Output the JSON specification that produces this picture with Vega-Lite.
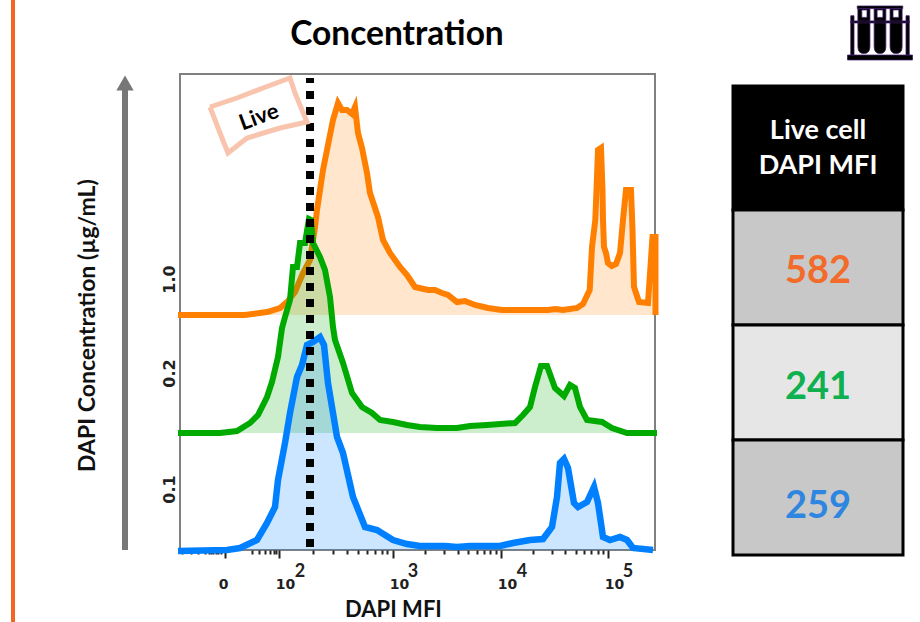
{
"$schema":"https://vega.github.io/schema/vega-lite/v6.json",
"width":475,"height":476,
"autosize":"none",
"padding":{"left":180,"top":74,"right":265,"bottom":72},
"background":"white",
"view":{"stroke":"#808080","strokeWidth":2},
"config":{"mark":{"invalid":"show"}},
"datasets":{
"curves":[
{"s":"1.0","x":-2,"y":235},{"s":"1.0","x":65,"y":235},{"s":"1.0","x":87,"y":238},{"s":"1.0","x":100,"y":242},{"s":"1.0","x":107,"y":248},{"s":"1.0","x":115,"y":258},{"s":"1.0","x":123,"y":277},{"s":"1.0","x":130,"y":290},{"s":"1.0","x":135,"y":323},{"s":"1.0","x":137,"y":340},{"s":"1.0","x":143,"y":380},{"s":"1.0","x":150,"y":415},{"s":"1.0","x":153,"y":430},{"s":"1.0","x":158,"y":447},{"s":"1.0","x":162,"y":440},{"s":"1.0","x":167,"y":440},{"s":"1.0","x":172,"y":436},{"s":"1.0","x":175,"y":443},{"s":"1.0","x":178,"y":417},{"s":"1.0","x":182,"y":402},{"s":"1.0","x":187,"y":377},{"s":"1.0","x":190,"y":357},{"s":"1.0","x":198,"y":333},{"s":"1.0","x":203,"y":310},{"s":"1.0","x":210,"y":297},{"s":"1.0","x":220,"y":283},{"s":"1.0","x":227,"y":275},{"s":"1.0","x":235,"y":263},{"s":"1.0","x":248,"y":260},{"s":"1.0","x":255,"y":260},{"s":"1.0","x":262,"y":257},{"s":"1.0","x":268,"y":255},{"s":"1.0","x":277,"y":248},{"s":"1.0","x":285,"y":249},{"s":"1.0","x":295,"y":245},{"s":"1.0","x":308,"y":242},{"s":"1.0","x":322,"y":240},{"s":"1.0","x":368,"y":240},{"s":"1.0","x":375,"y":241},{"s":"1.0","x":383,"y":240},{"s":"1.0","x":397,"y":242},{"s":"1.0","x":403,"y":246},{"s":"1.0","x":409.7,"y":260},{"s":"1.0","x":412,"y":303},{"s":"1.0","x":415.3,"y":330},{"s":"1.0","x":416.5,"y":360},{"s":"1.0","x":418,"y":400},{"s":"1.0","x":421,"y":402},{"s":"1.0","x":422.5,"y":360},{"s":"1.0","x":423,"y":330},{"s":"1.0","x":424,"y":303},{"s":"1.0","x":426,"y":297},{"s":"1.0","x":428,"y":287},{"s":"1.0","x":431.7,"y":284},{"s":"1.0","x":436,"y":286},{"s":"1.0","x":440,"y":297},{"s":"1.0","x":443,"y":330},{"s":"1.0","x":446,"y":360},{"s":"1.0","x":451,"y":360},{"s":"1.0","x":452.5,"y":320},{"s":"1.0","x":454,"y":263},{"s":"1.0","x":459,"y":248},{"s":"1.0","x":468,"y":247},{"s":"1.0","x":472.5,"y":313},{"s":"1.0","x":475.5,"y":313},{"s":"1.0","x":475.5,"y":235},
{"s":"0.2","x":-2,"y":117},{"s":"0.2","x":40,"y":117},{"s":"0.2","x":57,"y":119},{"s":"0.2","x":70,"y":127},{"s":"0.2","x":78,"y":135},{"s":"0.2","x":87,"y":153},{"s":"0.2","x":92,"y":168},{"s":"0.2","x":98,"y":193},{"s":"0.2","x":102,"y":222},{"s":"0.2","x":105,"y":233},{"s":"0.2","x":110,"y":250},{"s":"0.2","x":113,"y":283},{"s":"0.2","x":117,"y":283},{"s":"0.2","x":120,"y":307},{"s":"0.2","x":125,"y":307},{"s":"0.2","x":129,"y":331},{"s":"0.2","x":131,"y":330},{"s":"0.2","x":133,"y":307},{"s":"0.2","x":140,"y":293},{"s":"0.2","x":145,"y":280},{"s":"0.2","x":150,"y":253},{"s":"0.2","x":153,"y":223},{"s":"0.2","x":155,"y":210},{"s":"0.2","x":163,"y":187},{"s":"0.2","x":172,"y":157},{"s":"0.2","x":182,"y":143},{"s":"0.2","x":192,"y":137},{"s":"0.2","x":200,"y":130},{"s":"0.2","x":213,"y":128},{"s":"0.2","x":227,"y":125},{"s":"0.2","x":240,"y":123},{"s":"0.2","x":257,"y":122},{"s":"0.2","x":277,"y":122},{"s":"0.2","x":290,"y":124},{"s":"0.2","x":307,"y":125},{"s":"0.2","x":335,"y":127},{"s":"0.2","x":343,"y":135},{"s":"0.2","x":350,"y":143},{"s":"0.2","x":355,"y":163},{"s":"0.2","x":361,"y":184},{"s":"0.2","x":367,"y":184},{"s":"0.2","x":375,"y":162},{"s":"0.2","x":384,"y":154},{"s":"0.2","x":390,"y":165},{"s":"0.2","x":395,"y":162},{"s":"0.2","x":400,"y":143},{"s":"0.2","x":407,"y":130},{"s":"0.2","x":422,"y":128},{"s":"0.2","x":432,"y":122},{"s":"0.2","x":447,"y":117},{"s":"0.2","x":477,"y":117},
{"s":"0.1","x":-2,"y":-1},{"s":"0.1","x":47,"y":0},{"s":"0.1","x":60,"y":2},{"s":"0.1","x":77,"y":10},{"s":"0.1","x":87,"y":27},{"s":"0.1","x":95,"y":43},{"s":"0.1","x":98,"y":70},{"s":"0.1","x":105,"y":107},{"s":"0.1","x":110,"y":137},{"s":"0.1","x":117,"y":173},{"s":"0.1","x":122,"y":185},{"s":"0.1","x":127,"y":205},{"s":"0.1","x":133,"y":208},{"s":"0.1","x":140,"y":213},{"s":"0.1","x":144,"y":205},{"s":"0.1","x":148,"y":167},{"s":"0.1","x":157,"y":113},{"s":"0.1","x":163,"y":97},{"s":"0.1","x":173,"y":53},{"s":"0.1","x":185,"y":23},{"s":"0.1","x":197,"y":20},{"s":"0.1","x":213,"y":10},{"s":"0.1","x":227,"y":6},{"s":"0.1","x":240,"y":4},{"s":"0.1","x":265,"y":4},{"s":"0.1","x":277,"y":3},{"s":"0.1","x":290,"y":4},{"s":"0.1","x":320,"y":4},{"s":"0.1","x":333,"y":7},{"s":"0.1","x":350,"y":10},{"s":"0.1","x":363,"y":11},{"s":"0.1","x":372,"y":23},{"s":"0.1","x":377,"y":53},{"s":"0.1","x":380,"y":87},{"s":"0.1","x":384,"y":91},{"s":"0.1","x":388,"y":82},{"s":"0.1","x":394,"y":47},{"s":"0.1","x":398,"y":43},{"s":"0.1","x":407,"y":48},{"s":"0.1","x":414,"y":63},{"s":"0.1","x":418,"y":47},{"s":"0.1","x":423,"y":13},{"s":"0.1","x":430,"y":10},{"s":"0.1","x":440,"y":13},{"s":"0.1","x":447,"y":10},{"s":"0.1","x":453,"y":2},{"s":"0.1","x":473,"y":0}
],
"tag":[{"k":0,"x":30,"y":443},{"k":1,"x":57,"y":452},{"k":2,"x":83,"y":462},{"k":3,"x":110,"y":472},{"k":4,"x":115,"y":457},{"k":5,"x":122,"y":440},{"k":6,"x":127,"y":428},{"k":7,"x":100,"y":422},{"k":8,"x":67,"y":412},{"k":9,"x":48,"y":397},{"k":10,"x":40,"y":417},{"k":11,"x":30,"y":443}],
"table":[{"c":"1.0","mfi":582},{"c":"0.2","mfi":241},{"c":"0.1","mfi":259}],
"exps":[{"x":120,"e":"2"},{"x":233,"e":"3"},{"x":342,"e":"4"},{"x":448,"e":"5"}]
},
"data":{"name":"curves"},
"layer":[
{"transform":[{"filter":"datum.s=='1.0'"}],"mark":{"type":"area","opacity":0.2,"clip":false},"encoding":{"y2":{"datum":235},
 "color":{"field":"s","type":"nominal","legend":null,"scale":{"domain":["1.0","0.2","0.1"],"range":["#ff8000","#00aa00","#0080ff"]}},
 "x":{"field":"x","type":"quantitative","title":"DAPI MFI","scale":{"domain":[0,475],"nice":false,"zero":false},"axis":{
  "values":[2,11,18,25,29,31,33,36,38,41,45,72,79,85,90,94,96,99,133,153,167,178,187,195,202,207,213,245,264,278,288,297,304,310,316,321,353,372,385,396,404,411,418,423,428],
  "labelExpr":"datum.value==45?'0':(indexof([99,213,321,428],datum.value)>=0?'10':'')",
  "grid":false,"domain":false,"labelOverlap":false,"labelFlush":false,"labelBound":false,"tickCount":45,
  "tickColor":"#222222","tickWidth":2,
  "tickSize":{"condition":{"test":"indexof([45,99,213,321,428],datum.value)>=0","value":8},"value":4},
  "labelFont":"DejaVu Sans","labelFontWeight":"bold","labelFontSize":14,"labelColor":"#222222","labelPadding":19,
  "labelOffset":{"condition":{"test":"datum.value==45","value":-2},"value":6},
  "titleFont":"Lato","titleFontWeight":"bold","titleFontSize":22,"titleColor":"#111111","titleX":213,"titleY":59,"titleBaseline":"middle"}},
 "y":{"field":"y","type":"quantitative","title":"DAPI Concentration (µg/mL)","scale":{"domain":[0,476],"nice":false,"zero":false},"axis":{
  "values":[61,177,271],"labelExpr":"datum.value==61?'0.1':(datum.value==177?'0.2':'1.0')",
  "grid":false,"domain":false,"ticks":false,"labelAngle":-90,"labelAlign":"center","labelBaseline":"middle",
  "labelFont":"DejaVu Sans","labelFontWeight":"bold","labelFontSize":16,"labelColor":"#222222","labelPadding":11,
  "titleFont":"Lato","titleFontWeight":"bold","titleFontSize":23,"titleColor":"#111111","titleX":-93,"titleY":251,"titleBaseline":"middle"}}}},
{"transform":[{"filter":"datum.s=='1.0'"}],"mark":{"type":"line","strokeWidth":6,"clip":false},"encoding":{"x":{"field":"x","type":"quantitative"},"y":{"field":"y","type":"quantitative"},"color":{"field":"s","type":"nominal"}}},
{"transform":[{"filter":"datum.s=='0.2'"}],"mark":{"type":"area","opacity":0.2,"clip":false},"encoding":{"x":{"field":"x","type":"quantitative"},"y":{"field":"y","type":"quantitative"},"y2":{"datum":117},"color":{"field":"s","type":"nominal"}}},
{"transform":[{"filter":"datum.s=='0.2'"}],"mark":{"type":"line","strokeWidth":6,"clip":false},"encoding":{"x":{"field":"x","type":"quantitative"},"y":{"field":"y","type":"quantitative"},"color":{"field":"s","type":"nominal"}}},
{"transform":[{"filter":"datum.s=='0.1'"}],"mark":{"type":"area","opacity":0.2,"clip":false},"encoding":{"x":{"field":"x","type":"quantitative"},"y":{"field":"y","type":"quantitative"},"y2":{"datum":0},"color":{"field":"s","type":"nominal"}}},
{"transform":[{"filter":"datum.s=='0.1'"}],"mark":{"type":"line","strokeWidth":6.5,"clip":false},"encoding":{"x":{"field":"x","type":"quantitative"},"y":{"field":"y","type":"quantitative"},"color":{"field":"s","type":"nominal"}}},
{"data":{"values":[{"gate":"Live"}]},"mark":{"type":"rule","color":"#000000","strokeWidth":8,"strokeDash":[8,8]},"encoding":{"x":{"datum":130,"type":"quantitative"},"y":{"datum":3,"type":"quantitative"},"y2":{"datum":472}}},
{"data":{"name":"tag"},"mark":{"type":"line","color":"#f8c4ae","strokeWidth":5,"clip":false},"encoding":{"x":{"field":"x","type":"quantitative"},"y":{"field":"y","type":"quantitative"},"order":{"field":"k"}}},
{"data":{"values":[{"t":"Live"}]},"mark":{"type":"text","font":"Lato","fontWeight":"bold","fontSize":22,"angle":340,"color":"#000000"},"encoding":{"x":{"datum":79,"type":"quantitative"},"y":{"datum":433,"type":"quantitative"},"text":{"field":"t"}}},
{"data":{"values":[{"t":"Concentration"}]},"mark":{"type":"text","font":"Lato","fontWeight":"bold","fontSize":33.5,"color":"#000000"},"encoding":{"x":{"datum":217,"type":"quantitative"},"y":{"datum":515,"type":"quantitative"},"text":{"field":"t"}}},
{"data":{"name":"exps"},"mark":{"type":"text","font":"Lato","fontWeight":"bold","fontSize":18,"color":"#222222"},"encoding":{"x":{"field":"x","type":"quantitative"},"y":{"datum":-22,"type":"quantitative"},"text":{"field":"e"}}},
{"data":{"values":[{"a":1}]},"mark":{"type":"rule","strokeWidth":6,"color":"#777777"},"encoding":{"x":{"datum":-55,"type":"quantitative"},"y":{"datum":0,"type":"quantitative"},"y2":{"datum":460}}},
{"data":{"values":[{"a":1}]},"mark":{"type":"point","shape":"triangle-up","size":300,"filled":true,"opacity":1,"color":"#777777"},"encoding":{"x":{"datum":-55,"type":"quantitative"},"y":{"datum":467,"type":"quantitative"}}},
{"data":{"values":[{"a":1}]},"mark":{"type":"rule","strokeWidth":4,"color":"#f26522"},"encoding":{"x":{"datum":-167,"type":"quantitative"},"y":{"datum":550,"type":"quantitative"},"y2":{"datum":-72}}},
{"data":{"values":[{"t":"Live cell DAPI MFI"}]},"mark":{"type":"rect","stroke":"#000000","strokeWidth":3,"color":"#000000"},"encoding":{"x":{"datum":553,"type":"quantitative"},"x2":{"datum":723},"y":{"datum":464,"type":"quantitative"},"y2":{"datum":340}}},
{"data":{"name":"table"},"transform":[{"filter":"datum.c=='1.0'"}],"mark":{"type":"rect","stroke":"#000000","strokeWidth":3,"color":"#c8c8c8"},"encoding":{"x":{"datum":553,"type":"quantitative"},"x2":{"datum":723},"y":{"datum":340,"type":"quantitative"},"y2":{"datum":225}}},
{"data":{"name":"table"},"transform":[{"filter":"datum.c=='0.2'"}],"mark":{"type":"rect","stroke":"#000000","strokeWidth":3,"color":"#e6e6e6"},"encoding":{"x":{"datum":553,"type":"quantitative"},"x2":{"datum":723},"y":{"datum":225,"type":"quantitative"},"y2":{"datum":110}}},
{"data":{"name":"table"},"transform":[{"filter":"datum.c=='0.1'"}],"mark":{"type":"rect","stroke":"#000000","strokeWidth":3,"color":"#c8c8c8"},"encoding":{"x":{"datum":553,"type":"quantitative"},"x2":{"datum":723},"y":{"datum":110,"type":"quantitative"},"y2":{"datum":-5}}},
{"data":{"values":[{"t":"Live cell"}]},"mark":{"type":"text","font":"Lato","fontWeight":"bold","fontSize":27,"color":"#ffffff"},"encoding":{"x":{"datum":638,"type":"quantitative"},"y":{"datum":419,"type":"quantitative"},"text":{"field":"t"}}},
{"data":{"values":[{"t":"DAPI MFI"}]},"mark":{"type":"text","font":"Lato","fontWeight":"bold","fontSize":27,"color":"#ffffff"},"encoding":{"x":{"datum":638,"type":"quantitative"},"y":{"datum":384,"type":"quantitative"},"text":{"field":"t"}}},
{"data":{"name":"table"},"transform":[{"filter":"datum.c=='1.0'"}],"mark":{"type":"text","font":"Lato","fontWeight":"bold","fontSize":38,"color":"#f26b2a"},"encoding":{"x":{"datum":638,"type":"quantitative"},"y":{"datum":278,"type":"quantitative"},"text":{"field":"mfi","type":"quantitative"}}},
{"data":{"name":"table"},"transform":[{"filter":"datum.c=='0.2'"}],"mark":{"type":"text","font":"Lato","fontWeight":"bold","fontSize":38,"color":"#0fb050"},"encoding":{"x":{"datum":638,"type":"quantitative"},"y":{"datum":162,"type":"quantitative"},"text":{"field":"mfi","type":"quantitative"}}},
{"data":{"name":"table"},"transform":[{"filter":"datum.c=='0.1'"}],"mark":{"type":"text","font":"Lato","fontWeight":"bold","fontSize":38,"color":"#2f86e0"},"encoding":{"x":{"datum":638,"type":"quantitative"},"y":{"datum":43,"type":"quantitative"},"text":{"field":"mfi","type":"quantitative"}}},
{"data":{"values":[{"icon":"test tubes"}]},"mark":{"type":"point","filled":true,"opacity":1,"size":4225,"color":"#000000","stroke":"#3c1c66","strokeWidth":0.8,"shape":"M-1 .71H1V.86H-1Z M-.7 -.8H.7V-.72H-.7Z M-.68 -.72H-.31V.45Q-.31 .66 -.5 .66Q-.68 .66 -.68 .45Z M-.56 -.68V-.45H-.4V-.68Z M-.18 -.72H.18V.45Q.18 .66 0 .66Q-.18 .66 -.18 .45Z M-.09 -.68V-.45H.09V-.68Z M.31 -.72H.68V.45Q.68 .66 .5 .66Q.31 .66 .31 .45Z M.4 -.68V-.45H.58V-.68Z M-.9 -.5H-.8V.71H-.9Z M.8 -.5H.9V.71H.8Z M-.9 -.34H.9V-.28H-.9Z"},"encoding":{"x":{"datum":700,"type":"quantitative"},"y":{"datum":518,"type":"quantitative"}}}
]
}
